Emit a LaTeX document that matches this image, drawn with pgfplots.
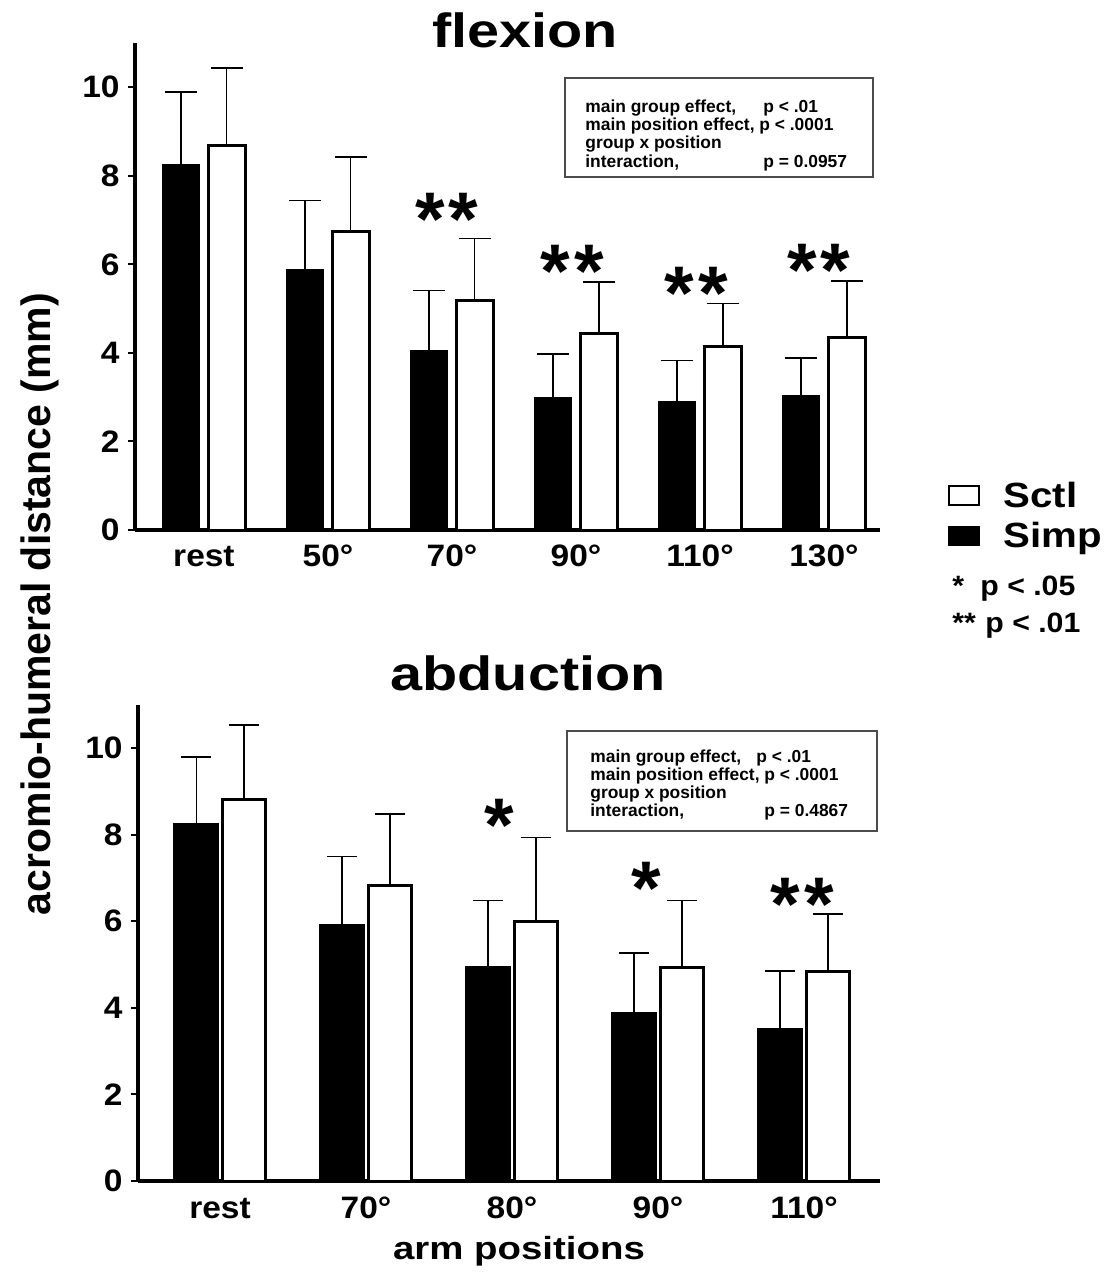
\documentclass[border=0pt]{standalone}
\usepackage{fontspec}
\setmainfont{Liberation Sans}
\newfontfamily\tickfont{Liberation Sans}[FakeStretch=1.08]
\newfontfamily\widefont{Liberation Sans}[FakeStretch=1.2]
\newfontfamily\legfont{Liberation Sans}[FakeStretch=1.15]
\usepackage{pgfplots}
\usepackage{pgfplotstable}
\pgfplotsset{compat=1.18}

% acromio-humeral distance (mm): group means and SD, per arm position
\pgfplotstableread{
x simp simpsd sctl sctlsd
0 8.25 1.65 8.68 1.75
1 5.87 1.57 6.75 1.68
2 4.04 1.37 5.19 1.39
3 2.99 0.98 4.44 1.16
4 2.90 0.93 4.15 0.97
5 3.04 0.84 4.35 1.27
}\flexiondata

\pgfplotstableread{
x simp simpsd sctl sctlsd
0 8.24 1.55 8.80 1.73
1 5.91 1.58 6.83 1.65
2 4.94 1.54 6.00 1.93
3 3.89 1.37 4.94 1.54
4 3.52 1.33 4.83 1.33
}\abductiondata

\pgfplotsset{
  barpanel/.style={
    scale only axis,
    ybar,
    axis lines=left,
    axis line style={-, line width=2.4pt},
    ymin=0, ymax=11,
    ytick={0,2,4,6,8,10},
    xtick=data,
    tick align=outside,
    major tick length=3.5pt,
    x tick style={draw=none},
    y tick style={line width=1pt, black},
    tick label style={font=\tickfont\bfseries\fontsize{15.5}{16}\selectfont},
    /pgf/number format/assume math mode=true,
    yticklabel style={inner sep=0pt, xshift=-4pt},
    xticklabel style={inner sep=0pt, anchor=base, yshift=-14.5pt},
    bar width=0.3,
    clip=false,
  },
  errbars/.style={
    error bars/.cd,
      y dir=plus, y explicit,
      error mark=-,
      error bar style={line width=0.6pt, black, solid},
      error mark options={rotate=90, line width=0.8pt, black, mark size=#1},
  },
  simpbar/.style={fill=black, draw=black, line width=0.8pt},
  sctlbar/.style={fill=white, draw=black, line width=1.5pt},
}
\tikzset{
  sigstar/.style={font=\bfseries\fontsize{38}{38}\selectfont, anchor=base,
    yshift=-19pt, inner sep=0pt},
}

\begin{document}
\begin{tikzpicture}
\path[use as bounding box] (0pt,0pt) rectangle (558.5pt,-637pt);

% ---------------- flexion ----------------
\begin{axis}[
  barpanel,
  at={(67.5pt,-265pt)}, anchor=south west,
  width=372.5pt, height=243.5pt,
  xmin=-0.556, xmax=5.452,
  xticklabels={rest,50°,70°,90°,110°,130°},
  reverse legend,
  legend style={at={(axis description cs:1.0913,0.108)}, anchor=north west,
    draw=none, fill=none, inner sep=0pt,
    font=\legfont\bfseries\fontsize{17.5}{17.5}\selectfont,
    row sep=2pt,
    /tikz/every odd column/.style={column sep=10pt}},
  legend cell align=left,
  legend image code/.code={\draw[#1, line width=0.6pt] (0pt,-4.5pt) rectangle (15pt,5pt);},
]
\addplot[simpbar, bar shift=-0.185, errbars=8pt]
  table[x=x, y=simp, y error=simpsd] {\flexiondata};
\addlegendentry{Simp}
\addplot[sctlbar, bar shift=0.185, errbars=8pt]
  table[x=x, y=sctl, y error=sctlsd] {\flexiondata};
\addlegendentry{Sctl}

\node[sigstar] at (axis cs:1.96,7.28) {*\hspace{2pt}*};
\node[sigstar] at (axis cs:2.97,6.12) {*\hspace{2pt}*};
\node[sigstar] at (axis cs:3.97,5.62) {*\hspace{2pt}*};
\node[sigstar] at (axis cs:4.96,6.14) {*\hspace{2pt}*};
\end{axis}

% ---------------- abduction ----------------
\begin{axis}[
  barpanel,
  at={(69pt,-590.5pt)}, anchor=south west,
  width=371pt, height=238.15pt,
  xmin=-0.562, xmax=4.521,
  xticklabels={rest,70°,80°,90°,110°},
  xticklabel style={yshift=-0.5pt},
]
\addplot[simpbar, bar shift=-0.164, errbars=7.5pt]
  table[x=x, y=simp, y error=simpsd] {\abductiondata};
\addplot[sctlbar, bar shift=0.164, errbars=7.5pt]
  table[x=x, y=sctl, y error=sctlsd] {\abductiondata};

\node[sigstar] at (axis cs:1.91,8.48) {*};
\node[sigstar] at (axis cs:2.92,7.03) {*};
\node[sigstar] at (axis cs:3.99,6.67) {*\hspace{2pt}*};
\end{axis}

% panel titles and axis labels
\node[anchor=base, font=\widefont\bfseries\fontsize{24}{24}\selectfont]
  at (262.5pt,-23.5pt) {flexion};
\node[anchor=base, font=\widefont\bfseries\fontsize{24}{24}\selectfont]
  at (264pt,-345pt) {abduction};
\node[anchor=base, rotate=90, font=\bfseries\fontsize{20.5}{21}\selectfont]
  at (25pt,-302pt) {acromio-humeral distance (mm)};
\node[anchor=base, font=\widefont\bfseries\fontsize{16}{16}\selectfont]
  at (259.5pt,-629.5pt) {arm positions};

% significance key
\node[anchor=base west, inner sep=0pt, font=\tickfont\bfseries\fontsize{14}{15}\selectfont]
  at (476pt,-297.5pt) {\makebox[14pt][l]{*}p < .05};
\node[anchor=base west, inner sep=0pt, font=\tickfont\bfseries\fontsize{14}{15}\selectfont]
  at (476pt,-316pt) {\makebox[16.5pt][l]{**}p < .01};

% statistics boxes
\draw[black!70, line width=0.6pt] (282.5pt,-39pt) rectangle (436.5pt,-88.5pt);
\node[anchor=north west, inner sep=0pt, align=left,
  font=\bfseries\fontsize{8.7}{9.2}\selectfont] at (292.5pt,-49.5pt)
  {\makebox[89pt][l]{main group effect,}p < .01\\
   main position effect, p < .0001\\
   group x position\\
   \makebox[89pt][l]{interaction,}p = 0.0957};

\draw[black!70, line width=0.6pt] (283.5pt,-365.5pt) rectangle (438.5pt,-415.5pt);
\node[anchor=north west, inner sep=0pt, align=left,
  font=\bfseries\fontsize{8.7}{9}\selectfont] at (295pt,-374.5pt)
  {\makebox[83pt][l]{main group effect,}p < .01\\
   main position effect, p < .0001\\
   group x position\\
   \makebox[87pt][l]{interaction,}p = 0.4867};
\end{tikzpicture}
\end{document}
